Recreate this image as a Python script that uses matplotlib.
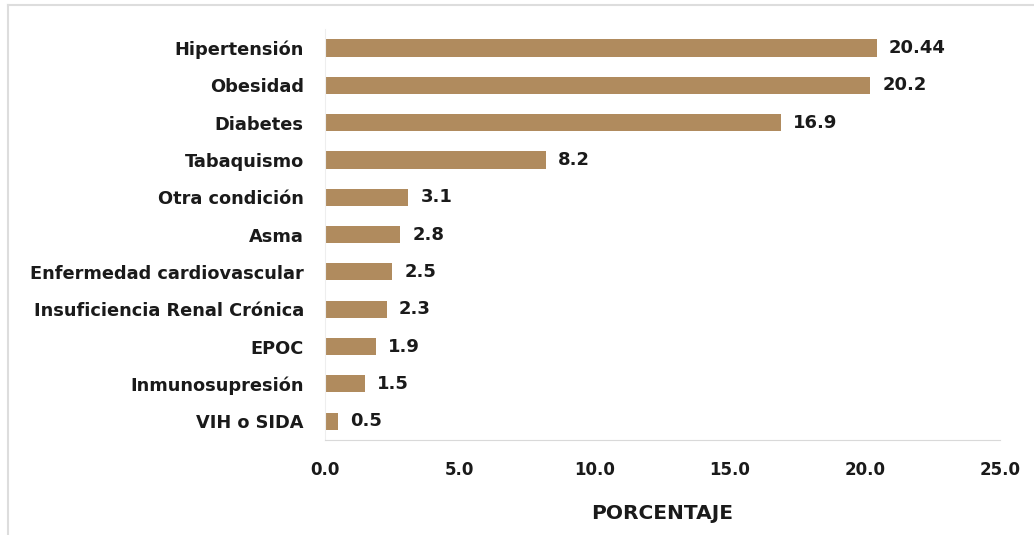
import matplotlib.pyplot as plt
from matplotlib.lines import Line2D

categories = ["Hipertensión", "Obesidad", "Diabetes", "Tabaquismo", "Otra condición",
              "Asma", "Enfermedad cardiovascular", "Insuficiencia Renal Crónica",
              "EPOC", "Inmunosupresión", "VIH o SIDA"]
values = [20.44, 20.2, 16.9, 8.2, 3.1, 2.8, 2.5, 2.3, 1.9, 1.5, 0.5]
labels = ["20.44", "20.2", "16.9", "8.2", "3.1", "2.8", "2.5", "2.3", "1.9", "1.5", "0.5"]
xticks = [0, 5, 10, 15, 20, 25]

plt.rcParams['font.family'] = ['DejaVu Sans']
plt.rcParams['font.weight'] = 'bold'

fig = plt.figure(figsize=(10.34, 5.35), dpi=100)
ax = fig.add_axes([0.314, 0.178, 0.653, 0.767])

pos = list(range(len(categories)))
ax.barh(pos, values, height=0.46, color='#B08B5E')
for p, v, t in zip(pos, values, labels):
    ax.text(v + 0.45, p, t, va='center', ha='left', fontsize=13, fontweight='bold', color='#1a1a1a')

ax.set_ylim(len(categories) - 0.5, -0.5)
ax.set_xlim(0, 25)
ax.set_yticks(pos)
ax.set_yticklabels(categories, fontsize=12.8, fontweight='bold', color='#1a1a1a')
ax.set_xticks(xticks)
ax.set_xticklabels(["%.1f" % x for x in xticks], fontsize=12, fontweight='bold', color='#1a1a1a')
ax.tick_params(length=0)
ax.tick_params(axis='x', pad=15)
ax.tick_params(axis='y', pad=15)
ax.set_xlabel("PORCENTAJE", fontsize=14.5, fontweight='bold', color='#1a1a1a', labelpad=18)

for s in ['top', 'right']:
    ax.spines[s].set_visible(False)
ax.spines['bottom'].set_color('#d9d9d9')
ax.spines['left'].set_color('#eeeeee')

# thin grey frame on top and left of the picture
fig.lines.append(Line2D([0.008, 1.0], [0.99, 0.99], transform=fig.transFigure, color='#dddddd', lw=1.5))
fig.lines.append(Line2D([0.008, 0.008], [0.0, 0.99], transform=fig.transFigure, color='#dddddd', lw=1.5))

fig.savefig('out.png', dpi=100)
